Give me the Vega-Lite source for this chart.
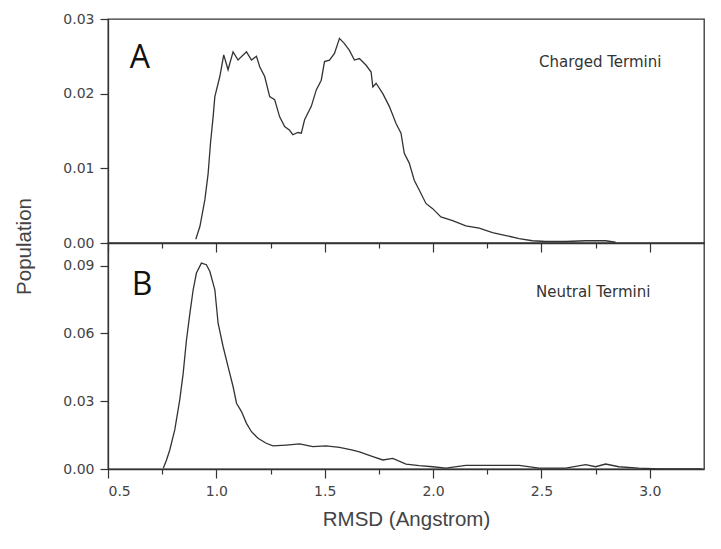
{
  "$schema": "https://vega.github.io/schema/vega-lite/v6.json",
  "padding": {"left": 13, "top": 11, "right": 5, "bottom": 5},
  "background": "white",
  "spacing": 0,
  "bounds": "flush",
  "config": {
    "view": {"stroke": "#333", "strokeWidth": 1.3},
    "axis": {
      "grid": false,
      "domainColor": "#333",
      "domainWidth": 1.3,
      "tickColor": "#333",
      "tickWidth": 1.2,
      "labelFont": "DejaVu Sans",
      "labelFontSize": 14,
      "labelColor": "#444",
      "titleFont": "Liberation Sans",
      "titleFontSize": 20.5,
      "titleFontWeight": "normal",
      "titleColor": "#444"
    }
  },
  "datasets": {
    "charged": [
      {"rmsd": 0.905, "pop": 0.0005}, {"rmsd": 0.924, "pop": 0.0022}, {"rmsd": 0.947, "pop": 0.0058}, {"rmsd": 0.962, "pop": 0.0093},
      {"rmsd": 0.973, "pop": 0.0134}, {"rmsd": 0.985, "pop": 0.0169}, {"rmsd": 0.993, "pop": 0.0196}, {"rmsd": 1.016, "pop": 0.0223},
      {"rmsd": 1.034, "pop": 0.0252}, {"rmsd": 1.054, "pop": 0.0232}, {"rmsd": 1.077, "pop": 0.0256}, {"rmsd": 1.1, "pop": 0.0245},
      {"rmsd": 1.139, "pop": 0.0256}, {"rmsd": 1.162, "pop": 0.0245}, {"rmsd": 1.185, "pop": 0.025}, {"rmsd": 1.2, "pop": 0.0236},
      {"rmsd": 1.223, "pop": 0.0223}, {"rmsd": 1.246, "pop": 0.0196}, {"rmsd": 1.269, "pop": 0.0192}, {"rmsd": 1.292, "pop": 0.0169},
      {"rmsd": 1.315, "pop": 0.0156}, {"rmsd": 1.338, "pop": 0.0151}, {"rmsd": 1.353, "pop": 0.0145}, {"rmsd": 1.376, "pop": 0.0148},
      {"rmsd": 1.392, "pop": 0.0147}, {"rmsd": 1.407, "pop": 0.0165}, {"rmsd": 1.438, "pop": 0.0183}, {"rmsd": 1.461, "pop": 0.0205},
      {"rmsd": 1.484, "pop": 0.0218}, {"rmsd": 1.499, "pop": 0.0243}, {"rmsd": 1.522, "pop": 0.0245}, {"rmsd": 1.545, "pop": 0.0254},
      {"rmsd": 1.568, "pop": 0.0274}, {"rmsd": 1.591, "pop": 0.0267}, {"rmsd": 1.614, "pop": 0.0258}, {"rmsd": 1.637, "pop": 0.0245},
      {"rmsd": 1.66, "pop": 0.0247}, {"rmsd": 1.691, "pop": 0.0238}, {"rmsd": 1.714, "pop": 0.0229}, {"rmsd": 1.722, "pop": 0.0209},
      {"rmsd": 1.737, "pop": 0.0214}, {"rmsd": 1.768, "pop": 0.02}, {"rmsd": 1.798, "pop": 0.0183}, {"rmsd": 1.829, "pop": 0.016},
      {"rmsd": 1.852, "pop": 0.0147}, {"rmsd": 1.867, "pop": 0.012}, {"rmsd": 1.89, "pop": 0.0107}, {"rmsd": 1.913, "pop": 0.0084},
      {"rmsd": 1.936, "pop": 0.0071}, {"rmsd": 1.967, "pop": 0.0053}, {"rmsd": 1.998, "pop": 0.0046}, {"rmsd": 2.036, "pop": 0.0035},
      {"rmsd": 2.09, "pop": 0.003}, {"rmsd": 2.151, "pop": 0.0023}, {"rmsd": 2.213, "pop": 0.002}, {"rmsd": 2.274, "pop": 0.0014},
      {"rmsd": 2.336, "pop": 0.001}, {"rmsd": 2.397, "pop": 0.0006}, {"rmsd": 2.458, "pop": 0.0003}, {"rmsd": 2.52, "pop": 0.0002},
      {"rmsd": 2.612, "pop": 0.0002}, {"rmsd": 2.704, "pop": 0.0003}, {"rmsd": 2.796, "pop": 0.0003}, {"rmsd": 2.842, "pop": 0.0001}
    ],
    "neutral": [
      {"rmsd": 0.755, "pop": 0.0003}, {"rmsd": 0.77, "pop": 0.004}, {"rmsd": 0.785, "pop": 0.0084}, {"rmsd": 0.808, "pop": 0.0173},
      {"rmsd": 0.831, "pop": 0.0306}, {"rmsd": 0.847, "pop": 0.0424}, {"rmsd": 0.862, "pop": 0.0571}, {"rmsd": 0.878, "pop": 0.069},
      {"rmsd": 0.893, "pop": 0.0793}, {"rmsd": 0.908, "pop": 0.0867}, {"rmsd": 0.931, "pop": 0.0911}, {"rmsd": 0.954, "pop": 0.0904},
      {"rmsd": 0.97, "pop": 0.0874}, {"rmsd": 0.993, "pop": 0.0793}, {"rmsd": 1.008, "pop": 0.0645}, {"rmsd": 1.031, "pop": 0.0542},
      {"rmsd": 1.054, "pop": 0.0453}, {"rmsd": 1.077, "pop": 0.0365}, {"rmsd": 1.093, "pop": 0.0291}, {"rmsd": 1.116, "pop": 0.0254},
      {"rmsd": 1.139, "pop": 0.0202}, {"rmsd": 1.162, "pop": 0.0165}, {"rmsd": 1.192, "pop": 0.0136}, {"rmsd": 1.23, "pop": 0.0114},
      {"rmsd": 1.261, "pop": 0.0102}, {"rmsd": 1.322, "pop": 0.0106}, {"rmsd": 1.384, "pop": 0.0111}, {"rmsd": 1.445, "pop": 0.0099},
      {"rmsd": 1.506, "pop": 0.0102}, {"rmsd": 1.568, "pop": 0.0096}, {"rmsd": 1.629, "pop": 0.0084}, {"rmsd": 1.66, "pop": 0.0076},
      {"rmsd": 1.722, "pop": 0.0055}, {"rmsd": 1.768, "pop": 0.004}, {"rmsd": 1.814, "pop": 0.0047}, {"rmsd": 1.875, "pop": 0.0022},
      {"rmsd": 1.936, "pop": 0.0015}, {"rmsd": 1.998, "pop": 0.001}, {"rmsd": 2.059, "pop": 0.0004}, {"rmsd": 2.151, "pop": 0.0016},
      {"rmsd": 2.274, "pop": 0.0016}, {"rmsd": 2.397, "pop": 0.0016}, {"rmsd": 2.489, "pop": 0.0004}, {"rmsd": 2.612, "pop": 0.0004},
      {"rmsd": 2.704, "pop": 0.0019}, {"rmsd": 2.75, "pop": 0.001}, {"rmsd": 2.796, "pop": 0.0022}, {"rmsd": 2.857, "pop": 0.001},
      {"rmsd": 2.949, "pop": 0.0004}, {"rmsd": 3.041, "pop": 0.0}, {"rmsd": 3.24, "pop": 0.0}
    ],
    "one": [{}]
  },
  "vconcat": [
    {
      "width": 596,
      "height": 224,
      "layer": [
        {
          "data": {"name": "charged"},
          "mark": {"type": "line", "color": "#333", "strokeWidth": 1.3, "clip": true},
          "encoding": {
            "x": {"field": "rmsd", "type": "quantitative",
              "scale": {"domain": [0.5, 3.25], "nice": false, "zero": false},
              "axis": {"title": null, "labels": false, "values": [0.5, 0.75, 1, 1.25, 1.5, 1.75, 2, 2.25, 2.5, 2.75, 3],
                "tickSize": {"condition": {"test": "round(datum.value*100)%50==0", "value": 9}, "value": 5}}},
            "y": {"field": "pop", "type": "quantitative",
              "scale": {"domain": [0, 0.03], "nice": false},
              "axis": {"title": null, "values": [0, 0.005, 0.01, 0.015, 0.02, 0.025, 0.03],
                "labelExpr": "round(datum.value*1000)%10==0 ? format(datum.value,'.2f') : ''",
                "tickSize": {"condition": {"test": "round(datum.value*1000)%10==0", "value": 8}, "value": 4},
                "labelPadding": 6}}
          }
        },
        {
          "data": {"name": "one"},
          "mark": {"type": "text", "text": "A", "font": "Open Sans", "fontSize": 32, "align": "left", "baseline": "middle", "color": "#111"},
          "encoding": {"x": {"datum": 0.6}, "y": {"datum": 0.0248}}
        },
        {
          "data": {"name": "one"},
          "mark": {"type": "text", "text": "Charged Termini", "font": "DejaVu Sans", "fontSize": 15, "align": "left", "baseline": "middle", "color": "#333"},
          "encoding": {"x": {"datum": 2.489}, "y": {"datum": 0.0242}}
        }
      ]
    },
    {
      "width": 596,
      "height": 226,
      "layer": [
        {
          "data": {"name": "neutral"},
          "mark": {"type": "line", "color": "#333", "strokeWidth": 1.3, "clip": true},
          "encoding": {
            "x": {"field": "rmsd", "type": "quantitative",
              "scale": {"domain": [0.5, 3.25], "nice": false, "zero": false},
              "axis": {"title": "RMSD (Angstrom)", "values": [0.5, 0.75, 1, 1.25, 1.5, 1.75, 2, 2.25, 2.5, 2.75, 3],
                "labelExpr": "round(datum.value*100)%50==0 ? format(datum.value,'.1f') : ''",
                "tickSize": {"condition": {"test": "round(datum.value*100)%50==0", "value": 9}, "value": 5},
                "labelPadding": 6, "titlePadding": 11}},
            "y": {"field": "pop", "type": "quantitative",
              "scale": {"domain": [0, 0.1], "nice": false},
              "axis": {"title": "Population", "values": [0, 0.015, 0.03, 0.045, 0.06, 0.075, 0.09],
                "labelExpr": "round(datum.value*1000)%30==0 ? format(datum.value,'.2f') : ''",
                "tickSize": {"condition": {"test": "round(datum.value*1000)%30==0", "value": 8}, "value": 4},
                "labelPadding": 6, "titleX": -74, "titleY": 3}}
          }
        },
        {
          "data": {"name": "one"},
          "mark": {"type": "text", "text": "B", "font": "Open Sans", "fontSize": 32, "align": "left", "baseline": "middle", "color": "#111"},
          "encoding": {"x": {"datum": 0.61}, "y": {"datum": 0.0812}}
        },
        {
          "data": {"name": "one"},
          "mark": {"type": "text", "text": "Neutral Termini", "font": "DejaVu Sans", "fontSize": 15, "align": "left", "baseline": "middle", "color": "#333"},
          "encoding": {"x": {"datum": 2.475}, "y": {"datum": 0.0784}}
        }
      ]
    }
  ]
}
